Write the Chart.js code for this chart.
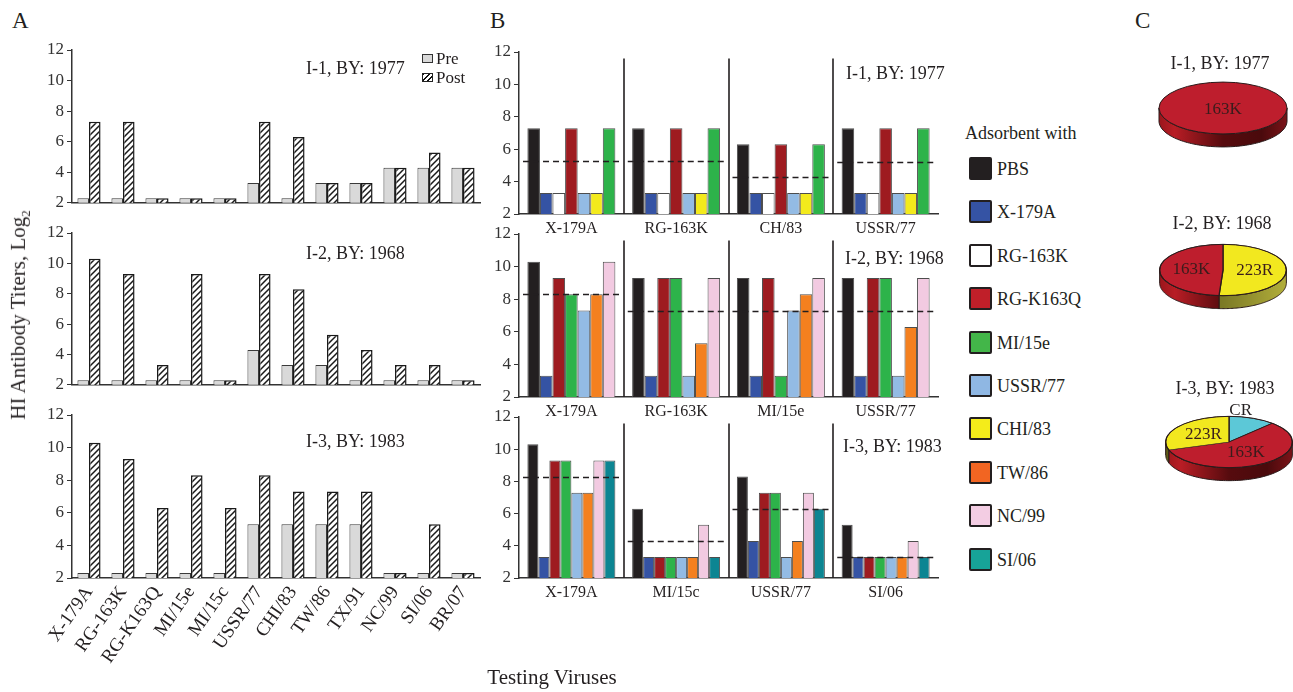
<!DOCTYPE html>
<html><head><meta charset="utf-8">
<script src="https://cdn.jsdelivr.net/npm/chart.js@4.4.1/dist/chart.umd.min.js"></script>
<style>
html,body{margin:0;padding:0;background:#fff;}
body{width:1293px;height:692px;position:relative;overflow:hidden;font-family:'Liberation Serif','DejaVu Serif',serif;color:#231f20;}
canvas{position:absolute;}
.t{position:absolute;white-space:nowrap;line-height:1;}
.sw{position:absolute;width:23px;height:23px;box-sizing:border-box;border:2px solid #231f20;border-radius:2px;}
</style></head><body>
<canvas id="a1"></canvas><canvas id="a2"></canvas><canvas id="a3"></canvas>
<canvas id="b1"></canvas><canvas id="b2"></canvas><canvas id="b3"></canvas>
<canvas id="p1"></canvas><canvas id="p2"></canvas><canvas id="p3"></canvas>

<div class="t" style="left:12px;top:9px;font-size:23px">A</div>
<div class="t" style="left:490px;top:9px;font-size:23px">B</div>
<div class="t" style="left:1135px;top:9px;font-size:23px">C</div>

<div class="t" style="left:20px;top:315px;font-size:21px;transform:translate(-50%,-50%) rotate(-90deg)">HI Antibody Titers, Log<sub style="font-size:13px">2</sub></div>
<div class="t" style="left:552px;top:677px;font-size:21px;transform:translate(-50%,-50%)">Testing Viruses</div>

<div class="t" style="left:306px;top:59px;font-size:18px">I-1, BY: 1977</div>
<div class="t" style="left:306px;top:244px;font-size:18px">I-2, BY: 1968</div>
<div class="t" style="left:306px;top:432px;font-size:18px">I-3, BY: 1983</div>
<div class="t" style="left:846px;top:64px;font-size:18px">I-1, BY: 1977</div>
<div class="t" style="left:845px;top:249px;font-size:18px">I-2, BY: 1968</div>
<div class="t" style="left:843px;top:437px;font-size:18px">I-3, BY: 1983</div>

<div style="position:absolute;left:422px;top:54px;width:11px;height:9px;box-sizing:border-box;border:1px solid #333;background:#d9d9d9"></div>
<div class="t" style="left:436px;top:50px;font-size:17px">Pre</div>
<div style="position:absolute;left:422px;top:73px;width:11px;height:9px;box-sizing:border-box;border:1px solid #222;background:repeating-linear-gradient(135deg,#111 0 1.4px,#fff 1.4px 3.6px)"></div>
<div class="t" style="left:436px;top:69px;font-size:17px">Post</div>

<div class="t" style="left:965px;top:124px;font-size:18px">Adsorbent with</div>
<div id="legendB"></div>

<div class="t" style="left:1220px;top:54px;font-size:18px;transform:translateX(-50%)">I-1, BY: 1977</div>
<div class="t" style="left:1222px;top:214px;font-size:18px;transform:translateX(-50%)">I-2, BY: 1968</div>
<div class="t" style="left:1225px;top:379px;font-size:18px;transform:translateX(-50%)">I-3, BY: 1983</div>

<script>
// ---------- DATA ----------
const yTicks = [2, 4, 6, 8, 10, 12];

const virusesA = ['X-179A','RG-163K','RG-K163Q','MI/15e','MI/15c','USSR/77','CHI/83','TW/86','TX/91','NC/99','SI/06','BR/07'];
const preI1  = [2.3,2.3,2.3,2.3,2.3,3.3,2.3,3.3,3.3,4.3,4.3,4.3];
const postI1 = [7.3,7.3,2.3,2.3,2.3,7.3,6.3,3.3,3.3,4.3,5.3,4.3];
const preI2  = [2.3,2.3,2.3,2.3,2.3,4.3,3.3,3.3,2.3,2.3,2.3,2.3];
const postI2 = [10.3,9.3,3.3,9.3,2.3,9.3,8.3,5.3,4.3,3.3,3.3,2.3];
const preI3  = [2.3,2.3,2.3,2.3,2.3,5.3,5.3,5.3,5.3,2.3,2.3,2.3];
const postI3 = [10.3,9.3,6.3,8.3,6.3,8.3,7.3,7.3,7.3,2.3,5.3,2.3];

const adsorbents = ['PBS','X-179A','RG-163K','RG-K163Q','MI/15e','USSR/77','CHI/83','TW/86','NC/99','SI/06'];

const groupsB1 = ['X-179A','RG-163K','CH/83','USSR/77'];
const seriesB1 = ['PBS','X-179A','RG-163K','RG-K163Q','USSR/77','CHI/83','MI/15e'];
const valuesB1 = [
  [7.3,7.3,6.3,7.3],
  [3.3,3.3,3.3,3.3],
  [3.3,3.3,3.3,3.3],
  [7.3,7.3,6.3,7.3],
  [3.3,3.3,3.3,3.3],
  [3.3,3.3,3.3,3.3],
  [7.3,7.3,6.3,7.3]
];
const cutoffB1 = [5.3,5.3,4.3,5.2];

const groupsB2 = ['X-179A','RG-163K','MI/15e','USSR/77'];
const seriesB2 = ['PBS','X-179A','RG-K163Q','MI/15e','USSR/77','TW/86','NC/99'];
const valuesB2 = [
  [10.3,9.3,9.3,9.3],
  [3.3,3.3,3.3,3.3],
  [9.3,9.3,9.3,9.3],
  [8.3,9.3,3.3,9.3],
  [7.3,3.3,7.3,3.3],
  [8.3,5.3,8.3,6.3],
  [10.3,9.3,9.3,9.3]
];
const cutoffB2 = [8.3,7.3,7.3,7.3];

const groupsB3 = ['X-179A','MI/15c','USSR/77','SI/06'];
const seriesB3 = ['PBS','X-179A','RG-K163Q','MI/15e','USSR/77','TW/86','NC/99','SI/06'];
const valuesB3 = [
  [10.3,6.3,8.3,5.3],
  [3.3,3.3,4.3,3.3],
  [9.3,3.3,7.3,3.3],
  [9.3,3.3,7.3,3.3],
  [7.3,3.3,3.3,3.3],
  [7.3,3.3,4.3,3.3],
  [9.3,5.3,7.3,4.3],
  [9.3,3.3,6.3,3.3]
];
const cutoffB3 = [8.3,4.3,6.3,3.3];

const pie1Labels = ['163K'];             const pie1Values = [100];
const pie2Labels = ['223R','163K'];      const pie2Values = [51,49];
const pie3Labels = ['CR','163K','223R']; const pie3Values = [12,58,30];

// ---------- STYLES ----------
const FONT = "'Liberation Serif','DejaVu Serif',serif";
const barColor = {'PBS':'#231f20','X-179A':'#3553a4','RG-163K':'#ffffff','RG-K163Q':'#9e1b20','MI/15e':'#2db34a',
  'USSR/77':'#93bbe4','CHI/83':'#f3ea1c','TW/86':'#f4801f','NC/99':'#f2cae1','SI/06':'#0c8592'};
const legendColor = {'PBS':'#231f20','X-179A':'#3553a4','RG-163K':'#ffffff','RG-K163Q':'#c01f29','MI/15e':'#43b649',
  'USSR/77':'#8fb7e3','CHI/83':'#f4ec1a','TW/86':'#f26522','NC/99':'#f3cde3','SI/06':'#17a398'};
const pieColor = {'163K':'#be1e2d','223R':'#f2e81f','CR':'#5cc8d7'};
const sideStops = {
  '163K':[[0,'#9a161c'],[0.12,'#b81d25'],[0.5,'#560b0e'],[0.8,'#4a0a0c'],[1,'#7a1318']],
  '223R':[[0,'#5e5c18'],[0.5,'#7c7a26'],[1,'#b2ae3a']],
  'CR':[[0,'#2a7f8c'],[1,'#3aa5b5']]
};

// legend B
(function(){
  const host = document.getElementById('legendB');
  adsorbents.forEach((name,i)=>{
    const top = 157 + 43.4*i;
    const s = document.createElement('div'); s.className='sw';
    s.style.left='969px'; s.style.top=top+'px'; s.style.background=legendColor[name];
    host.appendChild(s);
    const t = document.createElement('div'); t.className='t';
    t.style.left='997px'; t.style.top=(top+3)+'px'; t.style.fontSize='18px'; t.textContent=name;
    host.appendChild(t);
  });
})();

function placeCanvas(id, plot, m){
  const cv = document.getElementById(id);
  const W = Math.round(plot.r - plot.l + m.l + m.r), H = Math.round(plot.b - plot.t + m.t + m.b);
  cv.width = W; cv.height = H;
  cv.style.width = W+'px'; cv.style.height = H+'px';
  cv.style.left = (plot.l - m.l)+'px'; cv.style.top = (plot.t - m.t)+'px';
  return cv;
}

function yScale(width){
  return {
    min: yTicks[0], max: yTicks[yTicks.length-1],
    afterFit: s => { s.width = width; },
    afterBuildTicks: s => { s.ticks = yTicks.map(v => ({value: v})); },
    ticks: {color:'#333', font:{family:FONT, size:17}, padding:3},
    grid: {drawOnChartArea:false, drawTicks:true, tickLength:5, color:'#333', lineWidth:1},
    border: {display:true, color:'#333', width:1.5}
  };
}

function hatchPattern(ctx){
  const c = document.createElement('canvas'); c.width = 6; c.height = 6;
  const x = c.getContext('2d');
  x.fillStyle = '#fff'; x.fillRect(0,0,6,6);
  x.strokeStyle = '#1a1a1a'; x.lineWidth = 1.5;
  x.beginPath();
  x.moveTo(0,6); x.lineTo(6,0);
  x.moveTo(-1,1); x.lineTo(1,-1);
  x.moveTo(5,7); x.lineTo(7,5);
  x.stroke();
  return ctx.createPattern(c, 'repeat');
}

function chartA(id, plot, showLabels, pre, post){
  const m = {l:45, t:14, r:8, b: showLabels ? 95 : 3};
  const cv = placeCanvas(id, plot, m);
  const ctx = cv.getContext('2d');
  new Chart(cv, {
    type:'bar',
    data:{labels: virusesA, datasets:[
      {label:'Pre', data: pre, backgroundColor:'#d9d9d9', borderColor:'#3a3a3a', borderWidth:1, categoryPercentage:0.68, barPercentage:1},
      {label:'Post', data: post, backgroundColor: hatchPattern(ctx), borderColor:'#1a1a1a', borderWidth:1.5, categoryPercentage:0.68, barPercentage:1}
    ]},
    options:{
      responsive:false, animation:false, devicePixelRatio:1,
      layout:{padding:{left:0, top:m.t, right:m.r, bottom:0}},
      plugins:{legend:{display:false}, tooltip:{enabled:false}},
      scales:{
        x:{offset:true, grid:{display:false, drawTicks:false}, border:{display:true, color:'#333', width:1.5},
           ticks:{display:showLabels, autoSkip:false, minRotation:55, maxRotation:55, color:'#231f20', font:{family:FONT, size:19}, padding:4},
           afterFit: s => { s.height = m.b; }},
        y: yScale(m.l)
      }
    }
  });
}

const groupDecor = {
  id:'groupDecor',
  afterDatasetsDraw(chart, args, opts){
    const {ctx, chartArea, scales:{x, y}} = chart;
    const n = chart.data.labels.length;
    const step = (chartArea.right - chartArea.left) / n;
    ctx.save();
    ctx.strokeStyle = '#231f20'; ctx.lineWidth = 1.6;
    for (let i = 1; i < n; i++){
      const px = Math.round((x.getPixelForValue(i-1) + x.getPixelForValue(i)) / 2);
      ctx.beginPath(); ctx.moveTo(px, y.getPixelForValue(opts.sepTop)); ctx.lineTo(px, chartArea.bottom); ctx.stroke();
    }
    ctx.setLineDash([6,4]); ctx.lineWidth = 1.3;
    opts.cutoffs.forEach((v, i) => {
      const c = x.getPixelForValue(i), py = Math.round(y.getPixelForValue(v)) + 0.5;
      ctx.beginPath(); ctx.moveTo(c - step/2 + 4, py); ctx.lineTo(c + step/2 - 3, py); ctx.stroke();
    });
    ctx.restore();
  }
};

function chartB(id, plot, groups, series, values, cutoffs){
  const m = {l:45, t:14, r:8, b:26};
  const cv = placeCanvas(id, plot, m);
  new Chart(cv, {
    type:'bar',
    data:{labels: groups, datasets: series.map((name, i) => ({
      label:name, data: values[i], backgroundColor: barColor[name], borderColor:'#4d4d4d', borderWidth:1,
      categoryPercentage:0.84, barPercentage:1
    }))},
    options:{
      responsive:false, animation:false, devicePixelRatio:1,
      layout:{padding:{left:0, top:m.t, right:m.r, bottom:0}},
      plugins:{legend:{display:false}, tooltip:{enabled:false}, groupDecor:{cutoffs: cutoffs, sepTop: 11.6}},
      scales:{
        x:{offset:true, grid:{display:false, drawTicks:false}, border:{display:true, color:'#333', width:1.5},
           ticks:{autoSkip:false, maxRotation:0, color:'#231f20', font:{family:FONT, size:16}, padding:5},
           afterFit: s => { s.height = m.b; }},
        y: yScale(m.l)
      }
    },
    plugins:[groupDecor]
  });
}

const pie3d = {
  id:'pie3d',
  beforeDatasetsDraw(chart, args, opts){
    const ctx = chart.ctx, arcs = chart.getDatasetMeta(0).data;
    const k = opts.k, d = opts.depth;
    const cx = arcs[0].x, cy = arcs[0].y, r = arcs[0].outerRadius;
    ctx.save();
    arcs.forEach((arc, i) => {
      const s = Math.max(arc.startAngle, 0), e = Math.min(arc.endAngle, Math.PI);
      if (e <= s) return;
      const g = ctx.createLinearGradient(cx - r, 0, cx + r, 0);
      sideStops[chart.data.labels[i]].forEach(([o, c]) => g.addColorStop(o, c));
      const N = 80;
      ctx.beginPath();
      for (let j = 0; j <= N; j++){ const a = s + (e-s)*j/N; const px = cx + r*Math.cos(a), py = cy + k*r*Math.sin(a); j ? ctx.lineTo(px,py) : ctx.moveTo(px,py); }
      for (let j = N; j >= 0; j--){ const a = s + (e-s)*j/N; ctx.lineTo(cx + r*Math.cos(a), cy + k*r*Math.sin(a) + d); }
      ctx.closePath(); ctx.fillStyle = g; ctx.fill();
      ctx.strokeStyle = '#2a1a1a'; ctx.lineWidth = 1; ctx.stroke();
    });
    ctx.translate(cx, cy); ctx.scale(1, k); ctx.translate(-cx, -cy);
  },
  afterDatasetsDraw(chart, args, opts){
    const ctx = chart.ctx; ctx.restore();
    const arcs = chart.getDatasetMeta(0).data;
    const vals = chart.data.datasets[0].data;
    const total = vals.reduce((a, b) => a + b, 0);
    const k = opts.k, cx = arcs[0].x, cy = arcs[0].y, r = arcs[0].outerRadius;
    ctx.save();
    ctx.strokeStyle = '#2a1a1a'; ctx.lineWidth = 1;
    ctx.beginPath(); ctx.ellipse(cx, cy, r, k*r, 0, 0, Math.PI*2); ctx.stroke();
    ctx.font = '17px ' + FONT; ctx.textAlign = 'center'; ctx.textBaseline = 'middle';
    arcs.forEach((arc, i) => {
      const frac = vals[i] / total, mid = (arc.startAngle + arc.endAngle) / 2;
      let px, py;
      if (frac > 0.999){ px = cx; py = cy + 2; }
      else if (frac < 0.2){ px = cx + 0.5*r*Math.cos(mid); py = cy + k*r*Math.sin(mid) - 8; }
      else { px = cx + 0.5*r*Math.cos(mid); py = cy + k*0.5*r*Math.sin(mid); }
      ctx.fillStyle = frac < 0.2 ? '#231f20' : '#3a1c1c';
      ctx.fillText(chart.data.labels[i], px, py);
    });
    ctx.restore();
  }
};

function pieChart(id, cx, cy, labels, values){
  const S = 140;
  const cv = document.getElementById(id);
  cv.width = S; cv.height = S; cv.style.width = S+'px'; cv.style.height = S+'px';
  cv.style.left = (cx - S/2)+'px'; cv.style.top = (cy - S/2)+'px';
  new Chart(cv, {
    type:'pie',
    data:{labels: labels, datasets:[{data: values, backgroundColor: labels.map(l => pieColor[l]),
      borderColor:'#2a1a1a', borderWidth: labels.length > 1 ? 1.3 : 0}]},
    options:{responsive:false, animation:false, devicePixelRatio:1, layout:{padding:6},
      plugins:{legend:{display:false}, tooltip:{enabled:false}, pie3d:{k:0.405, depth:13}}},
    plugins:[pie3d]
  });
}

chartA('a1', {l:72, t:50, r:480, b:213}, false, preI1, postI1);
chartA('a2', {l:72, t:233, r:480, b:395}, false, preI2, postI2);
chartA('a3', {l:72, t:415, r:480, b:578}, true, preI3, postI3);

chartB('b1', {l:519, t:52, r:938, b:214}, groupsB1, seriesB1, valuesB1, cutoffB1);
chartB('b2', {l:519, t:234, r:938, b:397}, groupsB2, seriesB2, valuesB2, cutoffB2);
chartB('b3', {l:519, t:417, r:938, b:578}, groupsB3, seriesB3, valuesB3, cutoffB3);

pieChart('p1', 1223, 107.5, pie1Labels, pie1Values);
pieChart('p2', 1223, 269.5, pie2Labels, pie2Values);
pieChart('p3', 1228.5, 442, pie3Labels, pie3Values);
</script>
</body></html>
